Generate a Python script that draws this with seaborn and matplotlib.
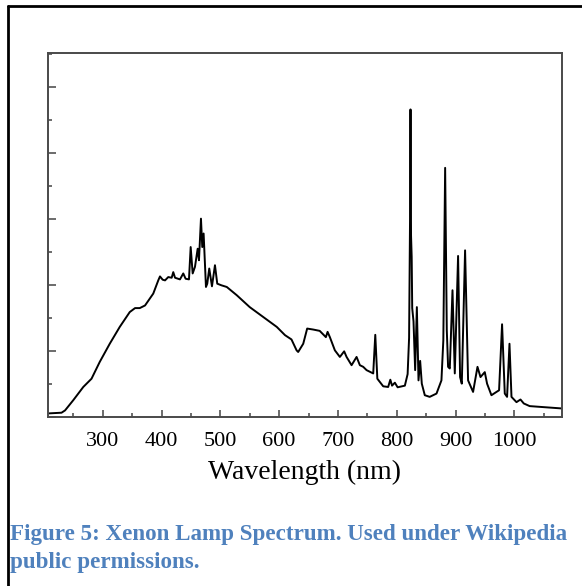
import numpy as np
import pandas as pd
import matplotlib
matplotlib.use('Agg')
import matplotlib.pyplot as plt
from matplotlib.lines import Line2D
from matplotlib.ticker import MultipleLocator, NullFormatter
import seaborn as sns

# Xenon lamp spectrum (wavelength in nm, relative intensity)
wavelength = [209, 230, 236, 250, 267, 281, 295, 312, 329, 346, 355, 363, 372, 386,
              394.5, 397.4, 402, 406, 411.5, 417.3, 420, 423, 431.4, 437, 441, 446.7,
              449.6, 453, 456.9, 461.5, 463.7, 467.1, 469.3, 471.6, 475.6, 477.8, 481.2,
              485.8, 490.9, 494.8, 502, 511, 528, 550, 573, 596, 610, 621, 629.7, 632.4,
              641, 647.7, 658, 669, 679.5, 682.4, 686.3, 694.8, 703.3, 710.6, 714.7,
              723.2, 731.7, 737.3, 743, 748.7, 760, 763.5, 767, 777, 785.4, 789.1, 792,
              796.8, 801.5, 813.8, 818.5, 821, 822.6, 823.4, 824.3, 825.4, 826.3, 828.5,
              831.3, 834.2, 837, 839.8, 842.6, 847.7, 856, 867.6, 876, 879.2, 882.3,
              885.1, 887.3, 890.2, 894.8, 898.7, 904.3, 907.7, 910.6, 916.2, 921.3,
              929.8, 937.3, 942.4, 949.7, 953.6, 961, 969.6, 974, 979.1, 983.7, 987.6,
              991.7, 995.1, 1003.6, 1010.4, 1016, 1026, 1049, 1080]
intensity = [0.11, 0.13, 0.20, 0.51, 0.91, 1.16, 1.67, 2.22, 2.73, 3.18, 3.30, 3.30, 3.38,
             3.74, 4.14, 4.26, 4.16, 4.14, 4.24, 4.22, 4.39, 4.22, 4.17, 4.35, 4.19, 4.17,
             5.15, 4.35, 4.55, 5.10, 4.75, 6.01, 5.15, 5.56, 3.94, 4.04, 4.50, 3.96, 4.60,
             4.04, 3.99, 3.94, 3.69, 3.33, 3.03, 2.73, 2.48, 2.35, 2.02, 1.97, 2.22, 2.68,
             2.65, 2.61, 2.42, 2.58, 2.42, 2.02, 1.82, 1.99, 1.82, 1.57, 1.82, 1.57, 1.52,
             1.42, 1.32, 2.49, 1.16, 0.93, 0.91, 1.13, 0.95, 1.04, 0.90, 0.95, 1.30, 2.40,
             6.00, 9.32, 5.50, 4.85, 3.30, 2.90, 1.42, 3.33, 1.11, 1.70, 1.01, 0.66, 0.61,
             0.71, 1.11, 2.32, 7.55, 2.63, 1.52, 1.47, 3.84, 1.32, 4.88, 1.21, 1.01, 5.05,
             1.11, 0.76, 1.52, 1.21, 1.36, 1.01, 0.66, 0.76, 0.81, 2.81, 0.71, 0.61, 2.22,
             0.61, 0.45, 0.53, 0.41, 0.33, 0.30, 0.26]

x_major = [300, 400, 500, 600, 700, 800, 900, 1000]
x_label = "Wavelength (nm)"
caption_lines = ["Figure 5: Xenon Lamp Spectrum. Used under Wikipedia",
                 "public permissions."]

df = pd.DataFrame({"wavelength": wavelength, "intensity": intensity})

sns.set_style("white")
plt.rcParams['font.family'] = ['Liberation Serif', 'DejaVu Serif']
plt.rcParams['text.color'] = 'black'
plt.rcParams['axes.labelcolor'] = 'black'
plt.rcParams['xtick.color'] = 'black'
plt.rcParams['ytick.color'] = 'black'

W, H = 582, 586
fig = plt.figure(figsize=(W / 100, H / 100), dpi=100)
ax = fig.add_axes([48 / W, 1 - 417 / H, 514 / W, 364 / H])

sns.lineplot(data=df, x="wavelength", y="intensity", ax=ax, color="black",
             lw=1.4, sort=False)

ax.set_xlim(207, 1081)
ax.set_ylim(0, 11.03)

ax.set_xticks(x_major)
ax.set_xticklabels([str(v) for v in x_major])
ax.xaxis.set_minor_locator(MultipleLocator(50))
ax.yaxis.set_major_locator(MultipleLocator(2))
ax.yaxis.set_minor_locator(MultipleLocator(1))
ax.yaxis.set_major_formatter(NullFormatter())

ax.tick_params(axis='both', which='both', direction='in', color='#444444',
               bottom=True, left=True, top=False, right=False)
ax.tick_params(axis='x', which='major', length=5, width=1.1, labelsize=16, pad=11,
               labelcolor='black')
ax.tick_params(axis='x', which='minor', length=3, width=1.1)
ax.tick_params(axis='y', which='major', length=6, width=1.1)
ax.tick_params(axis='y', which='minor', length=3, width=1.1)

for s in ax.spines.values():
    s.set_color('#4a4a4a')
    s.set_linewidth(1.4)

ax.set_xlabel(x_label, fontsize=20, labelpad=6, color='black')
ax.set_ylabel("")

# outer page border (left and top)
fig.add_artist(Line2D([8 / W, 8 / W], [0, 1 - 6 / H], transform=fig.transFigure,
                      color='black', lw=2))
fig.add_artist(Line2D([8 / W, 1], [1 - 6 / H, 1 - 6 / H], transform=fig.transFigure,
                      color='black', lw=2))

cap_color = '#4F81BD'
fig.text(10 / W, 1 - 540 / H, caption_lines[0], ha='left', va='baseline',
         fontsize=16.6, fontweight='bold', color=cap_color)
fig.text(10 / W, 1 - 568 / H, caption_lines[1], ha='left', va='baseline',
         fontsize=16.6, fontweight='bold', color=cap_color)

fig.savefig("out.png", dpi=100)
plt.close(fig)
